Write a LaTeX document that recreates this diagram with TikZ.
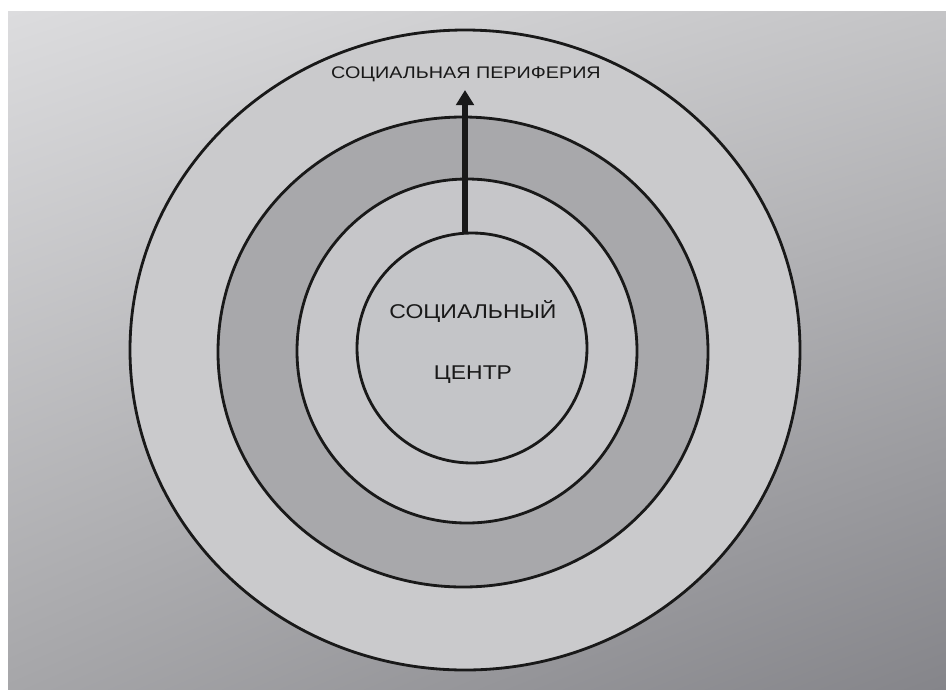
\documentclass[tikz,border=0pt]{standalone}
\usepackage{fontspec}
\setmainfont{Liberation Sans}
\usetikzlibrary{arrows.meta,shadings}
\definecolor{bgTL}{HTML}{DCDCDE}
\definecolor{bgTR}{HTML}{C4C4C6}
\definecolor{bgBL}{HTML}{A6A6A9}
\definecolor{bgBR}{HTML}{85858A}
\definecolor{ringlight}{HTML}{CACACC}
\definecolor{ringdark}{HTML}{A8A8AB}
\definecolor{ringmid}{HTML}{C6C6C9}
\definecolor{core}{HTML}{C4C5C8}
\tikzset{
  ring/.style={draw=black!90, line width=2.4pt},
  lbl/.style={inner sep=0pt, text=black!90},
  bigarrow/.style={line width=5.5pt, draw=black!90, -{Triangle[length=13pt,width=15pt]}}
}
\newcommand{\wide}[2]{\scalebox{#1}[1]{#2}}
\begin{document}
\begin{tikzpicture}[x=0.03cm,y=-0.03cm]
\useasboundingbox (0,0) rectangle (946,689);
\fill[white] (0,0) rectangle (946,689);
\shade[shading=four corners, upper left=bgTL, upper right=bgTR, lower left=bgBL, lower right=bgBR] (8,11) rectangle (946,689);
\filldraw[ring, fill=ringlight] (465,350) ellipse [x radius=335, y radius=320];
\filldraw[ring, fill=ringdark] (463,352) ellipse [x radius=245, y radius=235];
\filldraw[ring, fill=ringmid] (467,351) ellipse [x radius=170, y radius=172];
\filldraw[ring, fill=core] (472,348) ellipse [x radius=115, y radius=115];
\coordinate (innertop) at (465,234);
\coordinate (tip) at (465,90);
\draw[bigarrow] (innertop) -- (tip);
\node[lbl, font=\fontsize{14.3}{16}\selectfont, anchor=base] (periph) at (466,78) {\wide{1.18}{СОЦИАЛЬНАЯ ПЕРИФЕРИЯ}};
\node[lbl, font=\fontsize{17}{19}\selectfont, anchor=base] (center1) at (473,318) {\wide{1.155}{СОЦИАЛЬНЫЙ}};
\node[lbl, font=\fontsize{17}{19}\selectfont, anchor=base] (center2) at (473,379) {\wide{1.15}{ЦЕНТР}};
\end{tikzpicture}
\end{document}
